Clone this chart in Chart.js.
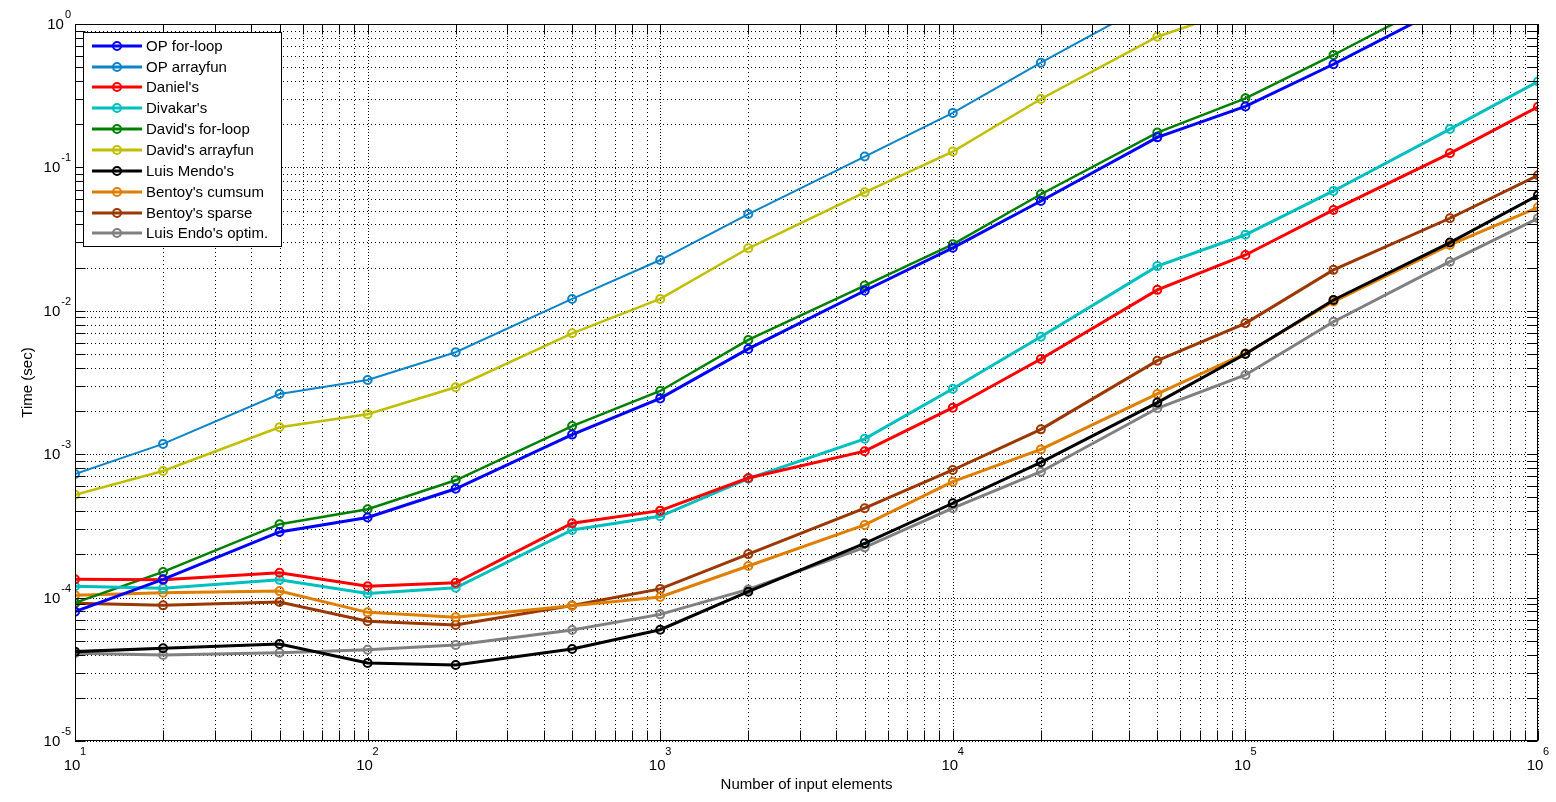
<!DOCTYPE html>
<html><head><meta charset="utf-8">
<script src="https://cdn.jsdelivr.net/npm/chart.js@4.4.0/dist/chart.umd.min.js"></script>
<style>html,body{margin:0;padding:0;background:#fff;overflow:hidden}#wrap{width:1556px;height:802px;position:relative}</style>
</head><body><div id="wrap"><canvas id="c" width="1556" height="802"></canvas></div>
<script>
// ---- data ----
const inputSizes = [10,20,50,100,200,500,1000,2000,5000,10000,20000,50000,100000,200000,500000,1000000];
const opForLoop      = [7.98e-5,1.34e-4,2.87e-4,3.62e-4,5.74e-4,1.37e-3,2.45e-3,5.42e-3,1.38e-2,2.75e-2,5.83e-2,0.162,0.266,0.524,1.37,2.6];
const opArrayfun     = [7.28e-4,1.18e-3,2.63e-3,3.29e-3,5.14e-3,1.21e-2,2.26e-2,4.73e-2,0.119,0.24,0.537,1.49,2.8,5.5,13,26];
const daniels        = [1.34e-4,1.33e-4,1.49e-4,1.20e-4,1.27e-4,3.30e-4,4.04e-4,6.82e-4,1.05e-3,2.11e-3,4.61e-3,1.40e-2,2.45e-2,5.05e-2,0.1254,0.265];
const divakars       = [1.20e-4,1.16e-4,1.33e-4,1.07e-4,1.17e-4,2.96e-4,3.69e-4,6.75e-4,1.28e-3,2.86e-3,6.60e-3,2.05e-2,3.39e-2,6.85e-2,0.185,0.397];
const davidsForLoop  = [9.21e-5,1.51e-4,3.25e-4,4.13e-4,6.58e-4,1.57e-3,2.76e-3,6.26e-3,1.50e-2,2.91e-2,6.50e-2,0.175,0.303,0.608,1.61,3.0];
const davidsArrayfun = [5.22e-4,7.64e-4,1.54e-3,1.90e-3,2.93e-3,6.97e-3,1.21e-2,2.73e-2,6.70e-2,0.129,0.300,0.815,1.32,2.6,6.0,12];
const luisMendos     = [4.20e-5,4.43e-5,4.75e-5,3.50e-5,3.39e-5,4.38e-5,5.97e-5,1.10e-4,2.39e-4,4.55e-4,8.78e-4,2.29e-3,5.00e-3,1.19e-2,2.99e-2,6.39e-2];
const bentoysCumsum  = [1.04e-4,1.08e-4,1.11e-4,7.89e-5,7.29e-5,8.78e-5,1.01e-4,1.66e-4,3.21e-4,6.43e-4,1.08e-3,2.63e-3,5.04e-3,1.16e-2,2.88e-2,5.27e-2];
const bentoysSparse  = [9.12e-5,8.83e-5,9.31e-5,6.84e-5,6.44e-5,8.80e-5,1.15e-4,2.01e-4,4.20e-4,7.76e-4,1.49e-3,4.49e-3,8.18e-3,1.93e-2,4.42e-2,8.81e-2];
const luisEndosOptim = [4.09e-5,3.98e-5,4.13e-5,4.33e-5,4.67e-5,5.94e-5,7.64e-5,1.14e-4,2.24e-4,4.20e-4,7.55e-4,2.09e-3,3.57e-3,8.39e-3,2.20e-2,4.42e-2];

const seriesNames = ["OP for-loop","OP arrayfun","Daniel's","Divakar's","David's for-loop","David's arrayfun","Luis Mendo's","Bentoy's cumsum","Bentoy's sparse","Luis Endo's optim."];
const seriesValues = [opForLoop,opArrayfun,daniels,divakars,davidsForLoop,davidsArrayfun,luisMendos,bentoysCumsum,bentoysSparse,luisEndosOptim];
const seriesColors = ['#0000ff','#0d84c8','#ff0000','#00bfbf','#008000','#bfbf00','#000000','#de7f00','#9a3800','#808080'];
const seriesWidths = [3,2,3,3,2.5,2.5,3,3,3,3];

const xTickExponents = [1,2,3,4,5,6];
const yTickExponents = [0,-1,-2,-3,-4,-5];
const xAxisTitle = 'Number of input elements';
const yAxisTitle = 'Time (sec)';

// ---- chart ----
const FONT = '"Liberation Sans", Arial, Helvetica, sans-serif';

const datasets = seriesNames.map((name,i)=>({
  label: name,
  data: inputSizes.map((x,j)=>({x:x,y:seriesValues[i][j]})),
  borderColor: seriesColors[i],
  backgroundColor: 'rgba(0,0,0,0)',
  pointBackgroundColor: 'rgba(0,0,0,0)',
  pointBorderColor: seriesColors[i],
  pointBorderWidth: 2,
  pointRadius: 4,
  borderWidth: seriesWidths[i],
  tension: 0,
  fill: false
}));

function decadeValues(minExp,maxExp){
  const out=[];
  for(let e=minExp;e<maxExp;e++){for(let k=1;k<10;k++){out.push({v:k*Math.pow(10,e),major:k===1});}}
  out.push({v:Math.pow(10,maxExp),major:true});
  return out;
}

const matlabAxes = {
  id:'matlabAxes',
  beforeDatasetsDraw(chart){
    const {ctx, chartArea:a, scales:{x:xs,y:ys}} = chart;
    ctx.save();
    ctx.strokeStyle='#000';
    ctx.lineWidth=1;
    const xmin=Math.min(...xTickExponents), xmax=Math.max(...xTickExponents);
    const ymin=Math.min(...yTickExponents), ymax=Math.max(...yTickExponents);
    decadeValues(xmin,xmax).forEach(t=>{
      const px=Math.round(xs.getPixelForValue(t.v))+0.5;
      ctx.setLineDash(t.major?[1,2]:[1,3]);
      ctx.beginPath();ctx.moveTo(px,a.top);ctx.lineTo(px,a.bottom);ctx.stroke();
    });
    decadeValues(ymin,ymax).forEach(t=>{
      const py=Math.round(ys.getPixelForValue(t.v))+0.5;
      ctx.setLineDash(t.major?[1,2]:[1,3]);
      ctx.beginPath();ctx.moveTo(a.left,py);ctx.lineTo(a.right,py);ctx.stroke();
    });
    ctx.restore();
  },
  afterDatasetsDraw(chart){
    const {ctx, chartArea:a, scales:{x:xs,y:ys}} = chart;
    ctx.save();
    ctx.setLineDash([]);
    ctx.strokeStyle='#000';
    ctx.lineWidth=1;
    const L=Math.round(a.left)+0.5, R=Math.round(a.right)-0.5, T=Math.round(a.top)+0.5, B=Math.round(a.bottom)-0.5;
    ctx.strokeRect(L,T,R-L,B-T);
    const xmin=Math.min(...xTickExponents), xmax=Math.max(...xTickExponents);
    const ymin=Math.min(...yTickExponents), ymax=Math.max(...yTickExponents);
    const tl=10;
    ctx.beginPath();
    decadeValues(xmin,xmax).forEach(t=>{
      const px=Math.round(xs.getPixelForValue(t.v))+0.5;
      ctx.moveTo(px,B);ctx.lineTo(px,B-tl);
      ctx.moveTo(px,T);ctx.lineTo(px,T+tl);
    });
    decadeValues(ymin,ymax).forEach(t=>{
      const py=Math.round(ys.getPixelForValue(t.v))+0.5;
      ctx.moveTo(L,py);ctx.lineTo(L+tl,py);
      ctx.moveTo(R,py);ctx.lineTo(R-tl,py);
    });
    ctx.stroke();

    // tick labels
    ctx.fillStyle='#000';
    xTickExponents.forEach(e=>{
      const px=xs.getPixelForValue(Math.pow(10,e));
      ctx.font='15px '+FONT;
      ctx.textAlign='center';ctx.textBaseline='alphabetic';
      ctx.fillText('10',px-3,770);
      ctx.font='11px '+FONT;
      ctx.textAlign='left';
      ctx.fillText(String(e),px+5,755);
    });
    yTickExponents.forEach(e=>{
      const py=ys.getPixelForValue(Math.pow(10,e));
      ctx.font='11px '+FONT;
      const es=String(e);
      const w=ctx.measureText(es).width;
      ctx.textAlign='left';ctx.textBaseline='alphabetic';
      const ex=71-w;
      ctx.fillText(es,ex,py-6);
      ctx.font='15px '+FONT;
      ctx.textAlign='right';
      ctx.fillText('10',ex-1,py+5);
    });

    // axis titles
    ctx.font='15px '+FONT;
    ctx.textAlign='center';ctx.textBaseline='middle';
    ctx.fillText(xAxisTitle,(a.left+a.right)/2,785);
    ctx.save();
    ctx.translate(28,(a.top+a.bottom)/2);
    ctx.rotate(-Math.PI/2);
    ctx.fillText(yAxisTitle,0,0);
    ctx.restore();

    // legend
    const lx=83.5, ly=32.5, lw=198, lh=214;
    ctx.fillStyle='#fff';
    ctx.fillRect(lx,ly,lw,lh);
    ctx.strokeStyle='#000';ctx.lineWidth=1;
    ctx.strokeRect(lx,ly,lw,lh);
    chart.data.datasets.forEach((ds,i)=>{
      const cy=Math.round(45.7+i*20.85);
      ctx.strokeStyle=ds.borderColor;
      ctx.lineWidth=3;
      ctx.beginPath();ctx.moveTo(92,cy);ctx.lineTo(142,cy);ctx.stroke();
      ctx.lineWidth=2;
      ctx.beginPath();ctx.arc(117,cy,4,0,Math.PI*2);ctx.stroke();
      ctx.fillStyle='#000';
      ctx.font='15px '+FONT;
      ctx.textAlign='left';ctx.textBaseline='middle';
      ctx.fillText(ds.label,146,cy+1);
    });
    ctx.restore();
  }
};

new Chart(document.getElementById('c'),{
  type:'line',
  data:{datasets:datasets},
  options:{
    responsive:false,
    animation:false,
    devicePixelRatio:1,
    layout:{padding:{left:75,right:18,top:24,bottom:61}},
    plugins:{legend:{display:false},tooltip:{enabled:false}},
    scales:{
      x:{type:'logarithmic',min:Math.pow(10,Math.min(...xTickExponents)),max:Math.pow(10,Math.max(...xTickExponents)),display:false},
      y:{type:'logarithmic',min:Math.pow(10,Math.min(...yTickExponents)),max:Math.pow(10,Math.max(...yTickExponents)),display:false}
    }
  },
  plugins:[matlabAxes]
});
</script>
</body></html>
